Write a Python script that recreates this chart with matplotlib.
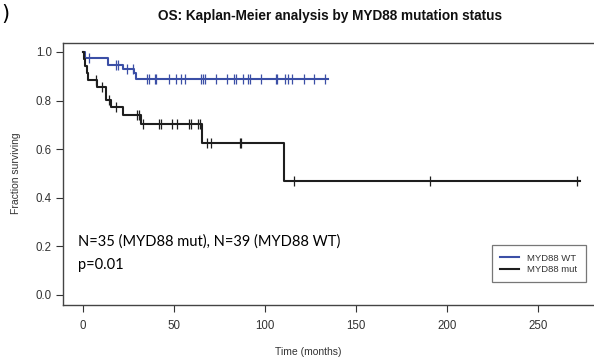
import numpy as np
import matplotlib
matplotlib.use('Agg')
import matplotlib.pyplot as plt

# Kaplan-Meier step curves (time in months, fraction surviving)
wt_times = [0, 1.0, 14.0, 22.3, 28.0, 29.1]
wt_surv = [1.0, 0.974, 0.948, 0.930, 0.912, 0.889]
wt_end = 134.5
wt_censor = [3.3, 18.1, 19.4, 24.5, 27.6, 35.1, 36.2, 39.6, 40.4, 47.3, 51.0,
             54.1, 56.1, 65.2, 66.0, 66.9, 72.9, 79.3, 82.9, 83.9, 88.1, 90.8,
             91.9, 98.0, 106.4, 106.9, 110.9, 112.8, 115.0, 121.7, 126.8, 133.1]

mut_times = [0, 0.8, 1.4, 2.2, 3.0, 8.0, 12.6, 15.3, 22.3, 32.2, 65.5, 110.3]
mut_surv = [1.0, 0.971, 0.943, 0.914, 0.886, 0.857, 0.802, 0.773, 0.739, 0.704,
            0.625, 0.470]
mut_end = 273.0
mut_censor = [7.5, 10.8, 14.4, 18.1, 29.5, 30.7, 33.3, 41.7, 42.8, 49.2, 51.9,
              58.1, 59.2, 63.4, 64.3, 68.4, 70.6, 86.2, 87.0, 115.8, 190.8, 271.5]

x_ticks = [0, 50, 100, 150, 200, 250]
y_ticks = [0.0, 0.2, 0.4, 0.6, 0.8, 1.0]

blue = '#3b4fa6'
black = '#1e1e1e'
grey = '#333333'


def draw_km(ax, times, surv, end, censor, color):
    t = np.append(times, end)
    s = np.append(surv, surv[-1])
    ax.step(t, s, where='post', color=color, lw=1.5)
    idx = np.searchsorted(times, censor, side='right') - 1
    cy = np.array(surv)[idx]
    ax.plot(censor, cy, ls='none', marker='|', ms=7.5, mew=0.9, color=color)


fig = plt.figure(figsize=(5.94, 3.61), dpi=100)
ax = fig.add_axes([63 / 594, 1 - 304.7 / 361, 536.5 / 594, 261.7 / 361])

draw_km(ax, wt_times, wt_surv, wt_end, wt_censor, blue)
draw_km(ax, mut_times, mut_surv, mut_end, mut_censor, black)

ax.set_xlim(-10.9, 283.9)
ax.set_ylim(-0.04, 1.037)
ax.set_xticks(x_ticks)
ax.set_yticks(y_ticks)
ax.set_yticklabels(['%.1f' % v for v in y_ticks])
ax.tick_params(axis='both', direction='out', length=5, width=0.8, color=grey,
               labelsize=8.3, labelcolor=grey, pad=3)
ax.tick_params(axis='x', pad=6)
for lab in ax.get_xticklabels() + ax.get_yticklabels():
    lab.set_family('Liberation Sans')
for sp in ax.spines.values():
    sp.set_color('#444444')
    sp.set_linewidth(1.0)

fig.text(330 / 594, 1 - 16 / 361, 'OS: Kaplan-Meier analysis by MYD88 mutation status',
         ha='center', va='center', fontsize=9.8, fontweight='bold',
         family='Liberation Sans', color='#111111')
fig.text(0.003, 1 - 14 / 361, ')', ha='left', va='center', fontsize=15, color='black')
fig.text(308 / 594, 1 - 352 / 361, 'Time (months)', ha='center', va='center',
         fontsize=7.5, family='Liberation Sans', color=grey)
fig.text(16 / 594, 1 - 173 / 361, 'Fraction surviving', ha='center', va='center',
         rotation=90, fontsize=7.5, family='Liberation Sans', color=grey)

fig.text(78 / 594, 1 - 242 / 361, 'N=35 (MYD88 mut), N=39 (MYD88 WT)',
         ha='left', va='center', fontsize=10.5, family='Lato', color='black')
fig.text(78 / 594, 1 - 265 / 361, 'p=0.01',
         ha='left', va='center', fontsize=10.5, family='Lato', color='black')

leg = ax.legend(handles=[plt.Line2D([], [], color=blue, lw=1.5),
                         plt.Line2D([], [], color=black, lw=1.5)],
                labels=['MYD88 WT', 'MYD88 mut'],
                loc='lower right', bbox_to_anchor=(0.975, 0.085),
                frameon=True, fancybox=False, fontsize=6.8, handlelength=2,
                borderpad=0.9, labelspacing=0.25, handletextpad=0.9,
                borderaxespad=0)
leg.get_frame().set_edgecolor('#555555')
leg.get_frame().set_linewidth(0.9)
for txt in leg.get_texts():
    txt.set_color(grey)
    txt.set_family('Liberation Sans')

fig.savefig('out.png', dpi=100)
